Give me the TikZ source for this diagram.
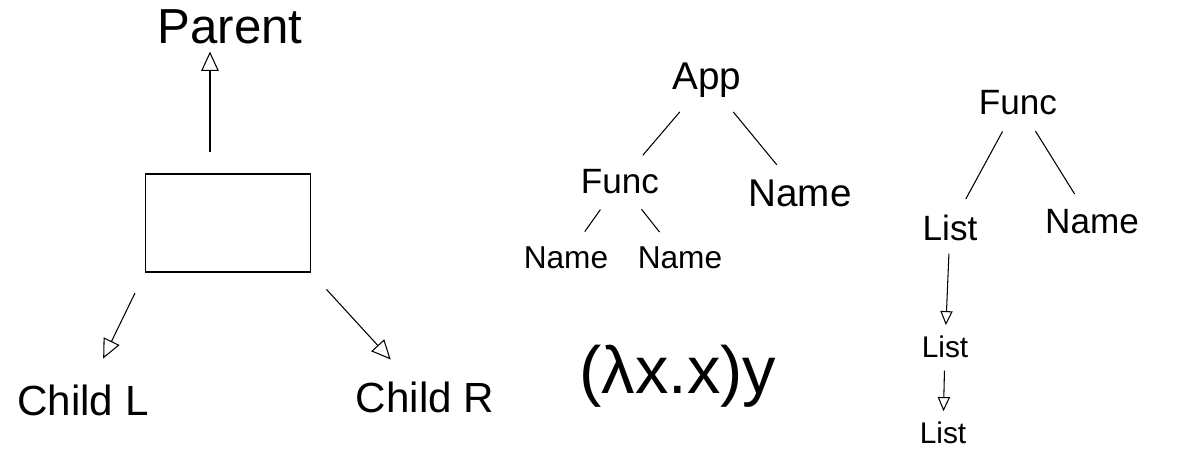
\documentclass[tikz,border=0pt]{standalone}
\usepackage{fontspec}
\setmainfont{Liberation Sans}
\usetikzlibrary{arrows.meta}

\tikzset{
  txt/.style={font=\fontsize{20}{24}\selectfont, inner sep=2pt},
  edge/.style={line width=0.6pt, shorten <=8pt, shorten >=8pt},
  arr/.style={edge, -{Triangle[open,length=11pt,width=10pt]}},
  sarr/.style={edge, shorten <=5pt, shorten >=4pt, -{Triangle[open,length=8pt,width=7pt]}},
}

\begin{document}
\begin{tikzpicture}[x=0.02cm,y=-0.02cm]
  \useasboundingbox (0,0) rectangle (1193,467);

  % Left: one node with its parent and two children
  \node[draw, line width=0.6pt, minimum width=3.3cm, minimum height=1.96cm] (box) at (228,223) {};
  \node[txt, font=\fontsize{28}{32}\selectfont] (parent) at (230,27) {Parent};
  \node[txt, font=\fontsize{24}{28}\selectfont] (childl) at (83,400) {Child L};
  \node[txt, font=\fontsize{24}{28}\selectfont] (childr) at (425,397) {Child R};
  \draw[arr, shorten <=12pt, shorten >=2pt] (box.110) -- (box.110 |- parent.south);
  \draw[arr, shorten <=13pt, shorten >=14pt] (box.south west) -- (childl);
  \draw[arr, shorten <=13pt, shorten >=14pt] (box.south east) -- (childr);

  % Middle: tree of (λx.x)y
  \node[txt, font=\fontsize{22}{26}\selectfont] (app) at (707,80) {App};
  \node[txt] (func1) at (620,182) {Func};
  \node[txt, font=\fontsize{22}{26}\selectfont] (name0) at (800,193) {Name};
  \node[txt, font=\fontsize{18}{22}\selectfont] (name1) at (566,258) {Name};
  \node[txt, font=\fontsize{18}{22}\selectfont] (name2) at (680,258) {Name};
  \node[txt, font=\fontsize{38}{44}\selectfont] (lam) at (678,376) {(λx.x)y};

  % Right: Func with a list of arguments
  \node[txt] (func2) at (1018,103) {Func};
  \node[txt] (list1) at (950,228) {List};
  \node[txt] (name3) at (1092,222) {Name};
  \node[txt, font=\fontsize{17}{20}\selectfont] (list2) at (945,347) {List};
  \node[txt, font=\fontsize{17}{20}\selectfont] (list3) at (943,433) {List};

  \foreach \a/\b in {app/func1, app/name0, func1/name1, func1/name2, func2/list1, func2/name3}
    \draw[edge] (\a) -- (\b);
  \draw[sarr] (list1) -- (list2);
  \draw[sarr] (list2) -- (list3);
\end{tikzpicture}
\end{document}
